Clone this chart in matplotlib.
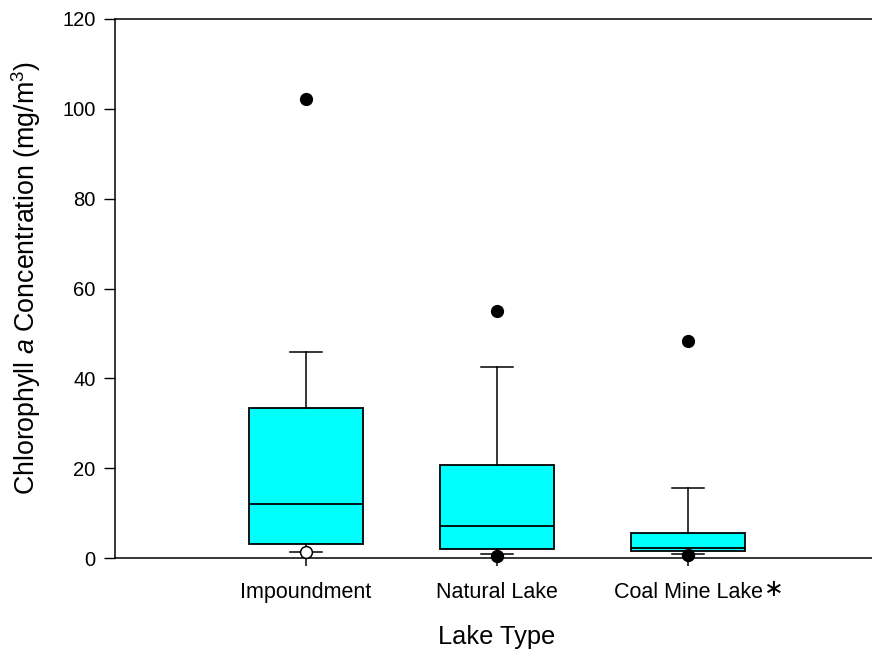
import matplotlib.pyplot as plt

plt.rcParams['font.family'] = ['Liberation Sans', 'DejaVu Sans']
plt.rcParams['mathtext.fontset'] = 'custom'
plt.rcParams['mathtext.rm'] = 'Liberation Sans'
plt.rcParams['mathtext.it'] = 'Liberation Sans:italic'

lake_types = ['Impoundment', 'Natural Lake', 'Coal Mine Lake']
q1 = [3.1, 2.0, 1.5]
median = [12.0, 7.1, 2.2]
q3 = [33.3, 20.8, 5.6]
whisker_low = [1.4, 0.8, 1.0]
whisker_high = [45.9, 42.5, 15.6]
whisker_tail = [-1.8, -1.8, -1.8]
outliers_high = [102.3, 54.9, 48.3]
outliers_low = [1.4, 0.4, 0.7]
outlier_low_filled = [False, True, True]

positions = [1, 2, 3]

fig = plt.figure(figsize=(8.72, 6.5), dpi=100)
ax = fig.add_axes([115 / 872, 92 / 650, 764 / 872, 539 / 650])

stats = []
for i in range(3):
    stats.append({'med': median[i], 'q1': q1[i], 'q3': q3[i],
                  'whislo': whisker_low[i], 'whishi': whisker_high[i],
                  'fliers': []})

ax.bxp(stats, positions=positions, widths=0.6, capwidths=0.17,
       showfliers=False, patch_artist=True,
       boxprops=dict(facecolor='#00ffff', edgecolor='black', linewidth=1.3),
       medianprops=dict(color='black', linewidth=1.3),
       whiskerprops=dict(color='black', linewidth=1.1),
       capprops=dict(color='black', linewidth=1.1))

# whisker running on below the axis, as in the original
ax.vlines(positions, whisker_tail, whisker_low, color='black', linewidth=1.1,
          clip_on=False, zorder=1)

ax.plot(positions, outliers_high, 'o', color='black', markersize=8.5, clip_on=False)
for x, y, filled in zip(positions, outliers_low, outlier_low_filled):
    ax.plot(x, y, 'o', markersize=8.5, markeredgecolor='black', markeredgewidth=1.1,
            markerfacecolor='black' if filled else 'white', clip_on=False, zorder=5)

ax.set_xlim(0, 4)
ax.set_ylim(0, 120)
ax.set_yticks([0, 20, 40, 60, 80, 100, 120])
ax.set_xticks(positions)
ax.set_xticklabels(lake_types)
ax.tick_params(axis='x', length=0, pad=17, labelsize=15.5)
ax.tick_params(axis='y', length=8, width=1, direction='out', pad=6, labelsize=14.5)
ax.spines['right'].set_visible(False)
for s in ['left', 'bottom', 'top']:
    ax.spines[s].set_linewidth(1.1)

ax.set_xlabel('Lake Type', fontsize=18.3, labelpad=16)
ax.set_ylabel(r'Chlorophyll $\mathit{a}$ Concentration (mg/m$^3$)', fontsize=19.3)
ax.yaxis.set_label_coords(-0.094, 0.52)

# asterisk after the coal mine label
fig.canvas.draw()
lab = ax.get_xticklabels()[2]
bb = lab.get_window_extent()
ax.annotate('\u2217', xy=(bb.x1, (bb.y0 + bb.y1) / 2), xycoords='figure pixels',
            xytext=(1, 2), textcoords='offset points', ha='left', va='center',
            fontsize=17, family='DejaVu Sans')

fig.savefig('out.png', dpi=100)
